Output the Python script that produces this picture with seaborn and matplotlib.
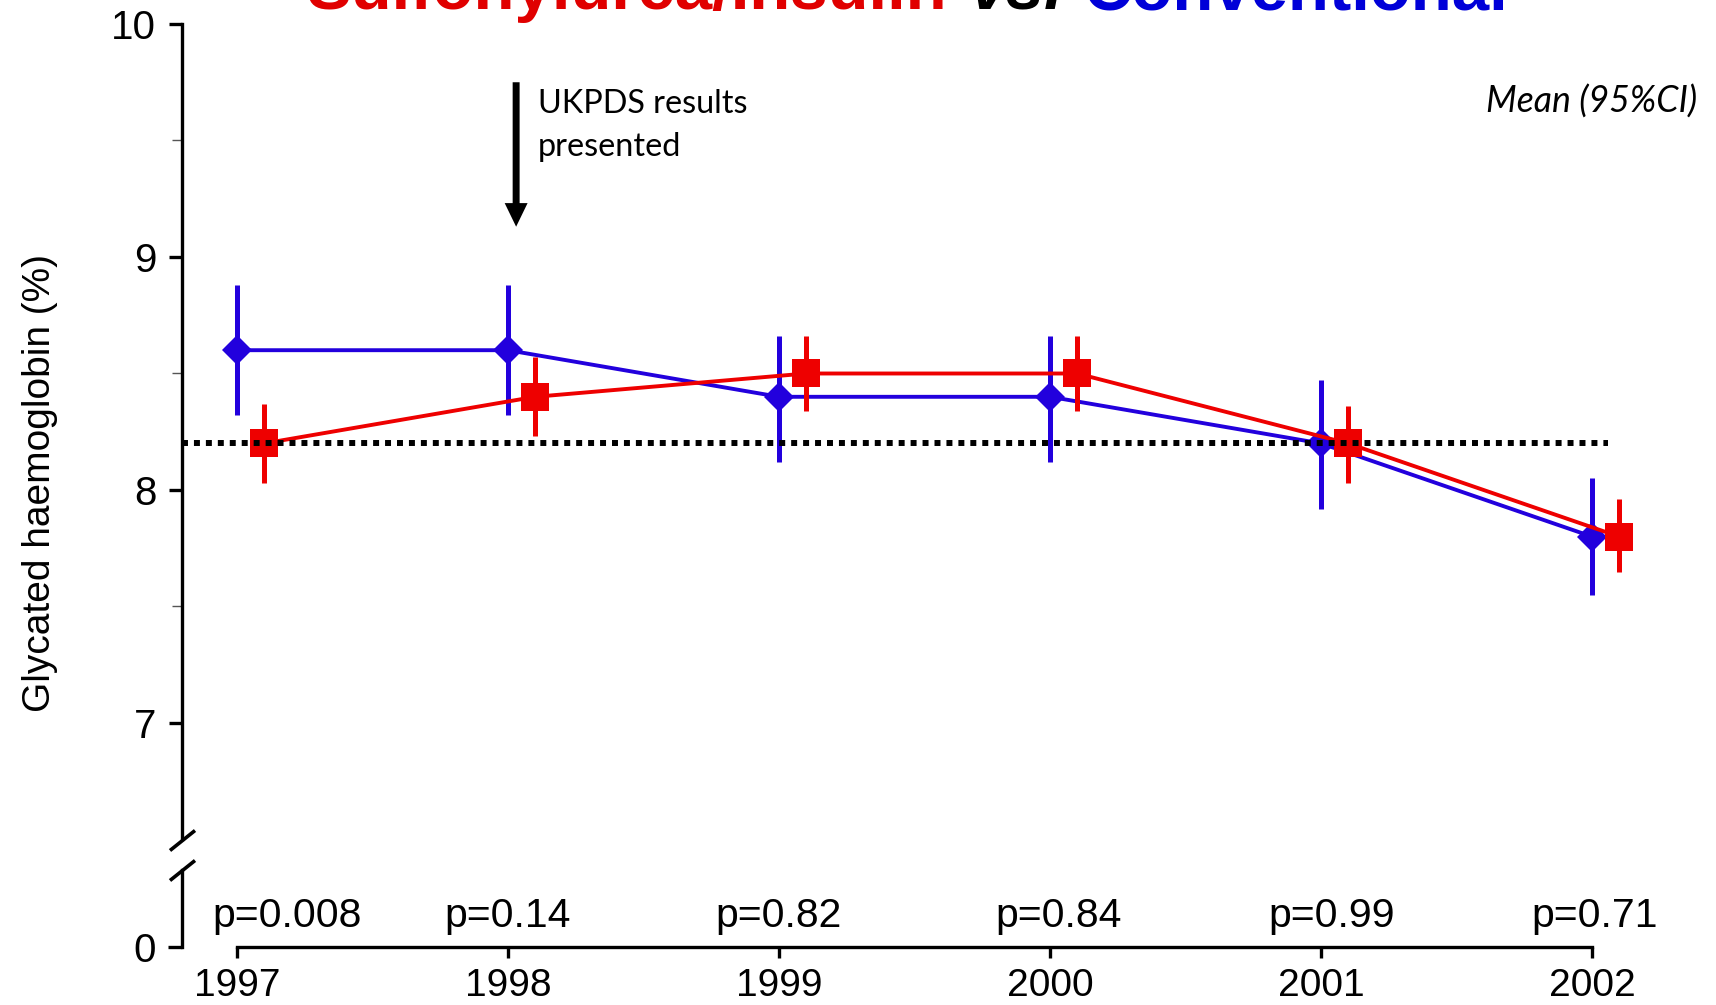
import matplotlib
matplotlib.use("Agg")
import matplotlib.pyplot as plt
import numpy as np
import pandas as pd
import seaborn as sns

# ---------------- data ----------------
years = [1997, 1998, 1999, 2000, 2001, 2002]
conv_mean = [8.60, 8.60, 8.40, 8.40, 8.20, 7.80]
conv_lo = [8.32, 8.32, 8.12, 8.12, 7.92, 7.55]
conv_hi = [8.88, 8.88, 8.66, 8.66, 8.47, 8.05]
su_mean = [8.20, 8.40, 8.50, 8.50, 8.20, 7.80]
su_lo = [8.03, 8.23, 8.34, 8.34, 8.03, 7.65]
su_hi = [8.37, 8.57, 8.66, 8.66, 8.36, 7.96]
p_labels = ["p=0.008", "p=0.14", "p=0.82", "p=0.84", "p=0.99", "p=0.71"]
ref_level = 8.2
y_ticks = [7, 8, 9, 10]
y_minor = [7.5, 8.5, 9.5]
group_su = "Sulfonylurea/Insulin"
group_conv = "Conventional"

# ---------------- style ----------------
BLUE = "#2200DD"
RED = "#EE0000"
TITLE_RED = "#E00000"
TITLE_BLUE = "#0000D8"
dodge = {group_conv: 0.0, group_su: 0.1}

sns.set_theme(style="ticks")
plt.rcParams["font.family"] = ["Liberation Sans", "DejaVu Sans"]
plt.rcParams["axes.linewidth"] = 2.4

W_PX, H_PX = 1716, 1005
fig = plt.figure(figsize=(W_PX / 100, H_PX / 100), dpi=100)

px_per_year = 271.0
x0 = 1997 - (237 - 182) / px_per_year
xlim = (x0, x0 + (W_PX - 182) / px_per_year)

L = 182 / W_PX
Wd = 1 - L
ax = fig.add_axes([L, 1 - 839.5 / H_PX, Wd, 815.5 / H_PX])
axb = fig.add_axes([L, 1 - 947 / H_PX, Wd, 77 / H_PX])

# ---------------- long-form table ----------------
df = pd.DataFrame({
    "year": years * 2,
    "value": conv_mean + su_mean,
    "lo": conv_lo + su_lo,
    "hi": conv_hi + su_hi,
    "group": [group_conv] * len(years) + [group_su] * len(years),
})
df["x"] = df["year"] + df["group"].map(dodge)

sns.lineplot(data=df, x="x", y="value", hue="group", style="group",
             hue_order=[group_conv, group_su], style_order=[group_conv, group_su],
             palette={group_conv: BLUE, group_su: RED},
             markers={group_conv: "D", group_su: "s"}, dashes=False,
             linewidth=2.8, markeredgewidth=0, legend=False, sort=False,
             errorbar=None, ax=ax)
for ln in ax.get_lines():
    if ln.get_marker() == "D":
        ln.set_markersize(15.5)
        ln.set_zorder(2)
    else:
        ln.set_markersize(20)
        ln.set_zorder(4)

for grp, col, z in [(group_conv, BLUE, 3), (group_su, RED, 5)]:
    d = df[df["group"] == grp]
    ax.errorbar(d["x"], d["value"], yerr=[d["value"] - d["lo"], d["hi"] - d["value"]],
                fmt="none", ecolor=col, elinewidth=3.6, capsize=0, zorder=z)

# reference dotted line
ax.hlines(ref_level, xlim[0], 2002.06, colors="black", linewidth=4.3,
          linestyles=(0, (1, 1)), zorder=10)

# ---------------- upper axes ----------------
ax.set_xlim(*xlim)
ax.set_ylim(6.5, 10)
ax.set_yticks(y_ticks)
ax.set_yticklabels([str(t) for t in y_ticks])
ax.set_yticks(y_minor, minor=True)
ax.tick_params(axis="y", which="major", length=9.5, width=2.4, pad=9, labelsize=29, colors="black")
ax.tick_params(axis="y", which="minor", length=7, width=1.0, color="#555555")
ax.set_xticks([])
ax.set_xlabel("")
ax.set_ylabel("Glycated haemoglobin (%)", fontsize=28, color="black")
ax.yaxis.set_label_coords(-0.081, 0.437)
for s in ["top", "right", "bottom"]:
    ax.spines[s].set_visible(False)
ax.spines["left"].set_bounds(6.5, 10)
ax.spines["left"].set_color("black")
ax.patch.set_alpha(0)

# arrow and annotations
ax.annotate("", xy=(1998.03, 9.13), xytext=(1998.03, 9.75),
            arrowprops=dict(facecolor="black", edgecolor="none", width=5,
                            headwidth=16.5, headlength=17, shrink=0))
t1 = ax.text(1998.11, 9.62, "UKPDS results", fontsize=22, family=["Lato", "DejaVu Sans"],
             va="baseline", ha="left", color="black")
t2 = ax.text(1998.11, 9.432, "presented", fontsize=22, family=["Lato", "DejaVu Sans"],
             va="baseline", ha="left", color="black")
t3 = ax.text(2002.39, 9.62, "Mean (95%CI)", fontsize=22, family=["Lato", "DejaVu Sans"],
             style="italic", va="baseline", ha="right", color="black")

# break marks
slash = [(-1, -0.8), (1, 0.8)]
ax.plot([0], [0], transform=ax.transAxes, marker=slash, markersize=18, mew=2.6,
        color="black", clip_on=False, linestyle="none")
axb.plot([0], [1], transform=axb.transAxes, marker=slash, markersize=18, mew=2.6,
         color="black", clip_on=False, linestyle="none")

# ---------------- lower axes ----------------
axb.set_xlim(*xlim)
axb.set_ylim(0, 1)
axb.set_yticks([0])
axb.set_yticklabels(["0"])
axb.set_xticks(years)
axb.set_xticklabels([str(y) for y in years])
axb.tick_params(axis="y", length=10, width=2.4, pad=9, labelsize=29, colors="black")
axb.tick_params(axis="x", length=8, width=2.4, pad=7, labelsize=28, colors="black")
for s in ["top", "right"]:
    axb.spines[s].set_visible(False)
axb.spines["bottom"].set_bounds(years[0], years[-1])
axb.spines["left"].set_bounds(0, 1)
for s in ["left", "bottom"]:
    axb.spines[s].set_color("black")
axb.patch.set_alpha(0)

p_x = [1996.91, 1998.0, 1999.0, 2000.03, 2001.04, 2002.01]
p_ha = ["left", "center", "center", "center", "center", "center"]
for xp, ha, lab in zip(p_x, p_ha, p_labels):
    axb.text(xp, 0.26, lab, fontsize=29.5, ha=ha, va="baseline", color="black")

# ---------------- title (cut off at the top, as in the reference) ----------------
yb = 1 - 9 / H_PX
tr = fig.text(306 / W_PX, yb, group_su, color=TITLE_RED, fontsize=40, weight="bold", va="baseline")
tv = fig.text(969 / W_PX, yb, "vs.", color="black", fontsize=40, weight="bold",
              style="italic", va="baseline")
tb = fig.text(1083 / W_PX, yb, group_conv, color=TITLE_BLUE, fontsize=40, weight="bold", va="baseline")


def fit(texts, ref, target_px):
    fig.canvas.draw()
    r = fig.canvas.get_renderer()
    w = ref.get_window_extent(r).width
    f = target_px / w
    for t in texts:
        t.set_fontsize(t.get_fontsize() * f)


fit([tr, tv, tb], tr, 641)
fit([t1, t2], t1, 209)
fit([t3], t3, 211)

fig.savefig("out.png", dpi=100)
